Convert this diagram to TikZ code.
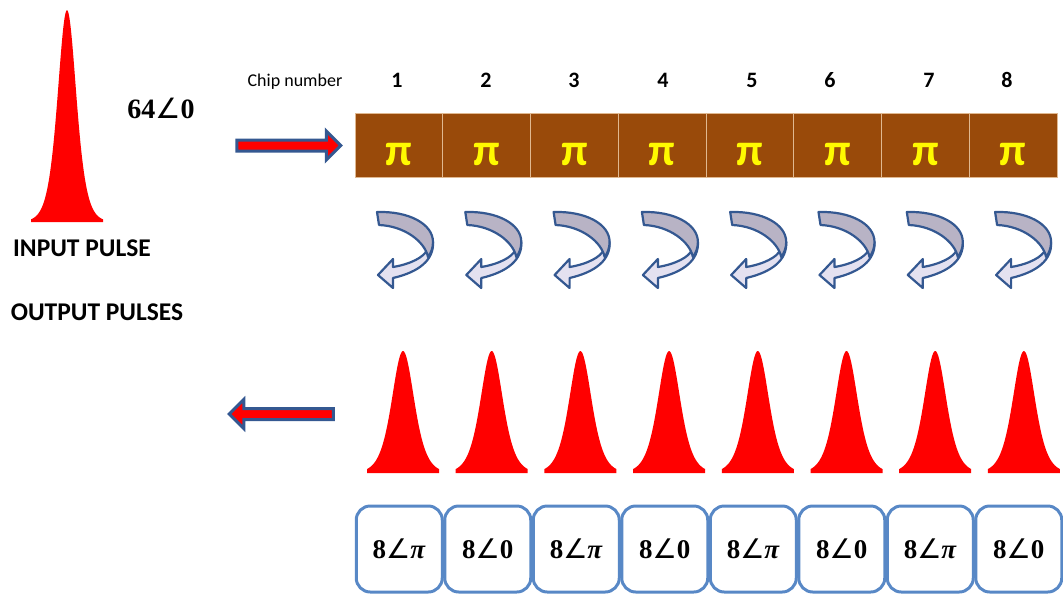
\documentclass[tikz,border=0pt]{standalone}
\usepackage{fontspec}
\setmainfont{Liberation Serif}
\newfontfamily\calibfont{Carlito}
\newfontfamily\symfont{DejaVu Sans}
\usepackage{xcolor}
\usepackage{tikz}
\usetikzlibrary{positioning,shapes.arrows}

\definecolor{chipbrown}{RGB}{153,74,10}
\definecolor{chipedge}{RGB}{224,184,144}
\definecolor{piyellow}{RGB}{255,250,0}
\definecolor{pulsered}{RGB}{255,0,0}
\definecolor{arrowblue}{RGB}{52,88,145}
\definecolor{boxblue}{RGB}{88,136,198}
\definecolor{topband}{RGB}{184,179,197}
\definecolor{lowband}{RGB}{228,225,240}

\newcommand{\ang}{{\symfont\mdseries ∠}}

\tikzset{
    chip/.style={rectangle, fill=chipbrown, draw=chipedge, line width=1,
        minimum width=87.75, minimum height=64, inner sep=0},
    pilabel/.style={text=piyellow, font=\calibfont\fontsize{46}{46}\selectfont\bfseries},
    chipnum/.style={font=\calibfont\fontsize{22}{22}\selectfont\bfseries},
    sidetext/.style={font=\calibfont\fontsize{25.5}{25.5}\selectfont\bfseries},
    outbox/.style={rectangle, rounded corners=14, draw=boxblue, line width=3,
        minimum width=86, minimum height=86, inner sep=0,
        font=\fontsize{27}{27}\selectfont\bfseries},
    bigarrow/.style={single arrow, draw=arrowblue, fill=pulsered, line width=3,
        minimum height=104, inner sep=0, inner ysep=4,
        single arrow head extend=9},
    flipback/.pic={
        % lower light band with the head
        \filldraw[draw=arrowblue, fill=lowband, line width=2.2, line join=round]
            (56,30) .. controls (57,48) and (42,60) .. (16,66)
            -- (16,76) -- (1,63) -- (16,47) -- (16,55)
            .. controls (34,52) and (47,45) .. (50,38) -- cycle;
        % upper dark band
        \filldraw[draw=arrowblue, fill=topband, line width=2.2, line join=round]
            (0,0) .. controls (32,-1) and (56,12) .. (56,30)
            .. controls (56,36) and (54,41) .. (51,45)
            .. controls (48,30) and (28,14) .. (2,13) -- cycle;
    }
}

\begin{document}
\begin{tikzpicture}[x=1pt, y=-1pt]
    \useasboundingbox (0,0) rectangle (1063,595);

    % input pulse
    \fill[pulsered] (31,222) -- plot[domain=-36:36, samples=80]
        ({67+\x}, {222-212/cosh(\x/12.5)^2}) -- (103,222) -- cycle;
    \node[font=\fontsize{28}{28}\selectfont\bfseries] (angle64) at (161,108) {64\ang0};
    \node[sidetext] (inlabel) at (82,248) {INPUT PULSE};
    \node[sidetext] (outlabel) at (97,312) {OUTPUT PULSES};

    % arrows in and out
    \node[bigarrow] (inarrow) at (286,145.5) {};
    \node[bigarrow, shape border rotate=180] (outarrow) at (284,414) {};

    % chips
    \node[font=\calibfont\fontsize{18}{18}\selectfont] (chiplabel) at (295,82) {Chip number};
    \foreach \i in {1,...,8}
        \node[chip, label={[pilabel, yshift=-9pt]center:π}] (chip\i)
            at ({355+87.75*(\i-0.5)},145) {};
    \foreach \i/\xx in {1/397,2/486,3/574,4/663,5/752,6/830,7/929,8/1007}
        \node[chipnum] (num\i) at (\xx,80) {\i};

    % phase flips
    \foreach \i in {0,...,7}
        \pic at ({377+88.3*\i},212) {flipback};

    % output pulses
    \foreach \i in {0,...,7}
        \fill[pulsered] ({403+88.7*\i-36},473) -- plot[domain=-36:36, samples=80]
            ({403+88.7*\i+\x}, {473-122/cosh(\x/15)^2}) -- ({403+88.7*\i+36},473) -- cycle;

    % output amplitudes
    \foreach \i/\ph in {1/\textit{π},2/0,3/\textit{π},4/0,5/\textit{π},6/0,7/\textit{π},8/0}
        \node[outbox] (box\i) at ({355+88.5*(\i-0.5)},549) {8\ang\ph};
\end{tikzpicture}
\end{document}
